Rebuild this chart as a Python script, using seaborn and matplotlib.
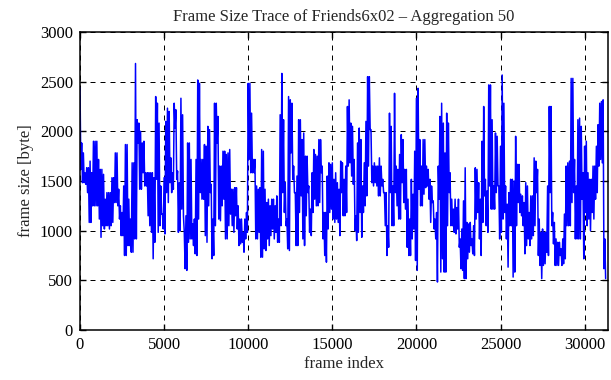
import numpy as np
import pandas as pd
import matplotlib
matplotlib.use("Agg")
import matplotlib.pyplot as plt
import seaborn as sns

aggregation = 50  # frames per aggregated sample

# Aggregated frame sizes [byte] (in order, 8 segments)
seg1 = [2440, 1617, 1883, 1483, 1783, 1483, 1583, 1467, 1633, 1383, 1633, 1083, 1700, 1083,
        1583, 1250, 1900, 1250, 1900, 1250, 1900, 1250, 1717, 1117, 1617, 933, 1617, 1050,
        1567, 1017, 1317, 1050, 1383, 1050, 1383, 1017, 1383, 1050, 1533, 1083, 1533, 1283,
        1783, 1283, 1783, 1250, 1417, 1117, 1250, 950, 1183, 950, 1450, 750, 1867, 750,
        1867, 850, 1317, 850, 1117, 783, 1683, 783, 1683, 917, 2683, 917, 2117, 1883,
        2083, 1417, 2000, 1417, 1883, 1583, 1900, 1450]
seg2 = [1583, 1450, 1583, 1150, 1583, 1050, 1583, 983, 1583, 717, 1533, 883, 2350, 1517,
        2283, 983, 2083, 1050, 1450, 1167, 1167, 1017, 1533, 967, 2100, 1383, 2233, 1283,
        2200, 1483, 1733, 1383, 1583, 1417, 2283, 2033, 2217, 1517, 1600, 983, 1483, 1000,
        2333, 1217, 2167, 1150, 983, 617, 1150, 600, 1883, 883, 1883, 917, 1717, 917,
        1067, 850, 1117, 767, 1717, 750, 2517, 1117, 2483, 1383, 1717, 1317, 1717, 1317,
        1867, 950, 1850, 883, 2050, 1250, 2017, 1383]
seg3 = [1467, 717, 1117, 750, 2283, 1050, 2283, 1883, 2150, 1117, 1650, 1100, 1650, 1250,
        1800, 1317, 1800, 917, 1767, 917, 1783, 1050, 1817, 1167, 1417, 1050, 1417, 983,
        1433, 1150, 1433, 1017, 1250, 850, 1117, 867, 1117, 883, 983, 783, 1117, 917,
        1183, 983, 2483, 1717, 2483, 1583, 2183, 1583, 1717, 1583, 1717, 917, 1450, 917,
        1417, 983, 1433, 733, 1817, 733, 1800, 817, 1417, 800, 1283, 917, 1317, 850,
        1250, 950, 1317, 1017, 1317, 917, 1250, 983]
seg4 = [1350, 883, 1117, 883, 2167, 1050, 2583, 1383, 2117, 1183, 1483, 1050, 1117, 817,
        2350, 800, 2317, 1783, 2283, 1517, 1650, 1383, 1383, 850, 1550, 850, 2117, 1183,
        2117, 1350, 1917, 917, 1983, 850, 1750, 1150, 1750, 1383, 1450, 983, 1217, 950,
        1583, 1183, 1817, 1317, 1767, 1250, 1750, 1250, 1917, 1283, 1917, 1583, 1650, 917,
        1183, 750, 1183, 683, 1550, 1017, 1683, 1183, 1667, 1217, 1683, 1117, 1517, 1083,
        1583, 1117, 1483, 1083, 1417, 950, 1700, 1383]
seg5 = [1683, 1150, 1517, 1150, 1650, 1183, 2250, 1650, 2317, 1683, 2083, 1550, 2050, 1467,
        1717, 1000, 1150, 900, 1883, 983, 2033, 1183, 1917, 933, 1450, 1183, 1683, 1250,
        2100, 1350, 2550, 1650, 2550, 2017, 2017, 1483, 1650, 1450, 1683, 1483, 1650, 1450,
        1650, 1350, 1733, 1350, 1650, 1450, 1517, 1383, 1383, 1050, 1383, 750, 1050, 833,
        2183, 1383, 2050, 1050, 1450, 1050, 2383, 1383, 1650, 1250, 1617, 1117, 1767, 1117,
        1967, 1483, 1917, 1283, 1617, 1217, 1617, 833]
seg6 = [1317, 750, 1117, 750, 1517, 917, 1367, 1017, 1800, 700, 2333, 600, 2433, 1417,
        1917, 1250, 1650, 1250, 1917, 1367, 1917, 1433, 1650, 1450, 1617, 1317, 1517, 1083,
        1450, 1283, 1300, 1017, 1117, 917, 1183, 483, 1650, 1317, 2150, 583, 2283, 717,
        2083, 583, 1783, 583, 2183, 1050, 2083, 1383, 1583, 1050, 1317, 1050, 1217, 983,
        1317, 967, 1233, 1017, 1317, 833, 917, 617, 1017, 600, 1300, 517, 1633, 517,
        1083, 717, 1067, 783, 1083, 850, 917, 767]
seg7 = [1050, 750, 1633, 1117, 1617, 1183, 1483, 917, 1317, 750, 1900, 1083, 2250, 1350,
        1517, 1050, 1400, 983, 2467, 1450, 2467, 1217, 2117, 1217, 1450, 1217, 1983, 1383,
        1950, 1450, 1450, 917, 1850, 983, 2567, 1117, 2283, 1183, 1450, 917, 1267, 633,
        1383, 1050, 1517, 1050, 1517, 533, 1500, 583, 1950, 1050, 1667, 1283, 1667, 1183,
        1367, 1150, 1350, 1050, 1283, 767, 1483, 850, 1450, 917, 1183, 850, 1350, 917,
        1350, 950, 1733, 1050, 1700, 1383, 1617, 750]
seg8 = [1117, 650, 983, 517, 1017, 650, 983, 667, 983, 783, 1450, 750, 2250, 1383,
        2250, 1050, 1183, 867, 1083, 650, 917, 650, 883, 650, 883, 750, 817, 650,
        917, 667, 1167, 717, 1650, 1050, 1683, 1050, 1700, 1050, 2533, 1283, 2533, 1383,
        1717, 917, 1450, 917, 2117, 917, 2133, 917, 2050, 1317, 1583, 717, 1850, 1183,
        1900, 1050, 1583, 1117, 1517, 1000, 1517, 1183, 1650, 1117, 1650, 1317, 1850, 1383,
        2067, 1650, 2283, 1717, 2300, 1683, 2317, 617, 917, 517]

frame_size = seg1 + seg2 + seg3 + seg4 + seg5 + seg6 + seg7 + seg8

df = pd.DataFrame({
    "frame": np.arange(len(frame_size)) * aggregation,
    "size": frame_size,
})

sns.set_style("ticks")
plt.rcParams["font.family"] = ["Liberation Serif", "DejaVu Serif"]

fig = plt.figure(figsize=(6.11, 3.80), dpi=100)
ax = fig.add_axes([80 / 611, 50 / 380, 528 / 611, 298 / 380])

sns.lineplot(data=df, x="frame", y="size", ax=ax, color="#0000ff", linewidth=1.1)

ax.set_xlim(0, 31390)
ax.set_ylim(0, 3000)
ax.set_xticks(np.arange(0, 30001, 5000))
ax.set_yticks(np.arange(0, 3001, 500))
ax.grid(True, color="black", linestyle=(0, (5, 5)), linewidth=0.72)
ax.set_axisbelow(True)

for s in ax.spines.values():
    s.set_visible(True)
    s.set_linewidth(1.1)
    s.set_color("black")
ax.tick_params(direction="in", length=4, width=1, top=True, right=True,
               labelsize=12, colors="black", pad=5)

ax.set_title("Frame Size Trace of Friends6x02 \u2013 Aggregation 50", fontsize=12, pad=8)
ax.set_xlabel("frame index", fontsize=12, labelpad=2)
ax.set_ylabel("frame size [byte]", fontsize=12, labelpad=4)

fig.savefig("out.png", dpi=100)
